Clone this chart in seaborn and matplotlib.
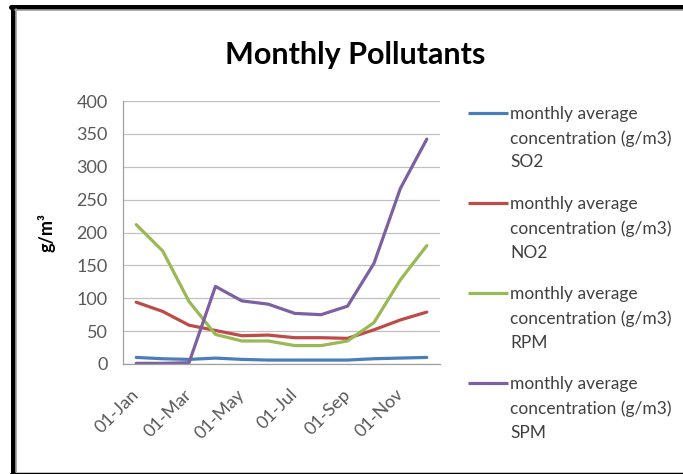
import numpy as np
import pandas as pd
import seaborn as sns
import matplotlib.pyplot as plt
from matplotlib.lines import Line2D

# ---- data ----
months = ['01-Jan', '01-Feb', '01-Mar', '01-Apr', '01-May', '01-Jun',
          '01-Jul', '01-Aug', '01-Sep', '01-Oct', '01-Nov', '01-Dec']
so2 = [10, 8, 7, 9, 7, 6, 6, 6, 6, 8, 9, 10]
no2 = [94, 80, 59, 51, 43, 44, 40, 40, 39, 52, 67, 79]
rpm = [212, 172, 95, 45, 35, 35, 28, 28, 35, 63, 128, 180]
spm = [1, 1, 2, 118, 96, 91, 77, 75, 88, 153, 267, 342]
series_names = ['SO2', 'NO2', 'RPM', 'SPM']
series_values = [so2, no2, rpm, spm]
colors = ['#4A7EBB', '#BE4B48', '#98B954', '#7D60A0']
yticks = [0, 50, 100, 150, 200, 250, 300, 350, 400]
xtick_labels = ['01-Jan', '01-Mar', '01-May', '01-Jul', '01-Sep', '01-Nov']

rows = []
for name, vals in zip(series_names, series_values):
    for i, v in enumerate(vals):
        rows.append({'idx': i, 'month': months[i], 'value': v, 'series': name})
df = pd.DataFrame(rows)

sns.set_theme(style='white')
plt.rcParams['font.family'] = ['Lato', 'DejaVu Sans']

W, H = 683, 474
fig = plt.figure(figsize=(W / 100, H / 100), dpi=100)
fig.patch.set_facecolor('white')

def fx(px):
    return px / W

def fy(py):
    return 1 - py / H

ax = fig.add_axes([fx(123), fy(364), fx(440) - fx(123), fy(101) - fy(364)])
sns.lineplot(data=df, x='idx', y='value', hue='series', hue_order=series_names,
             palette=colors, linewidth=2.3, ax=ax, legend=False)

ax.set_xlim(-0.5, len(months) - 0.5)
ax.set_ylim(0, 400)
ax.set_yticks(yticks)
ax.set_yticklabels([str(t) for t in yticks], fontsize=13, color='#595959')
ax.set_xticks(range(0, len(months), 2))
ax.set_xticklabels(xtick_labels, fontsize=13, color='#595959', rotation=45,
                   ha='right', va='center', rotation_mode='anchor')
ax.tick_params(axis='y', length=0, pad=11)
ax.tick_params(axis='x', length=0, pad=20)
ax.set_xlabel('')
ax.set_ylabel('')
ax.grid(axis='y', color='#C0C0C0', linewidth=0.9)
ax.grid(axis='x', visible=False)
for s in ['top', 'right']:
    ax.spines[s].set_visible(False)
for s in ['left', 'bottom']:
    ax.spines[s].set_color('#A0A0A0')
    ax.spines[s].set_linewidth(0.9)

# title and axis label
fig.text(fx(355), fy(64), 'Monthly Pollutants', fontsize=22, fontweight='bold',
         ha='center', va='baseline', color='black')
fig.text(fx(47), fy(232), 'g/m³', fontsize=13, fontweight='bold', rotation=90,
         ha='center', va='center', color='black')

# legend
for i, name in enumerate(series_names):
    y = 113 + 90 * i
    fig.add_artist(Line2D([fx(468), fx(508)], [fy(y), fy(y)], color=colors[i],
                          linewidth=2.3, solid_capstyle='butt'))
    fig.text(fx(510), fy(y - 7), 'monthly average\nconcentration (g/m3)\n' + name,
             fontsize=12.5, color='#404040', ha='left', va='top', linespacing=1.6)

# chart frame
fig.add_artist(Line2D([fx(12.5), fx(12.5)], [fy(6.5), fy(476)], color='black', linewidth=3.6))
fig.add_artist(Line2D([fx(10.5), fx(700)], [fy(6.5), fy(6.5)], color='black', linewidth=3.6))
fig.add_artist(Line2D([fx(10.5), fx(700)], [fy(473.5), fy(473.5)], color='black', linewidth=2.5))
fig.add_artist(Line2D([fx(16), fx(16)], [fy(9), fy(472)], color='#A0A0A0', linewidth=1.2))
fig.add_artist(Line2D([fx(15), fx(700)], [fy(9.8), fy(9.8)], color='#A0A0A0', linewidth=1.2))

fig.savefig('out.png', dpi=100, facecolor='white')
